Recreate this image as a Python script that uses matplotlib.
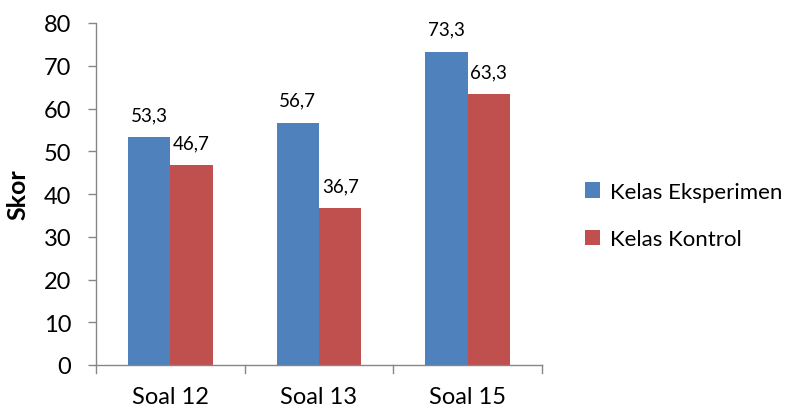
import matplotlib
matplotlib.use("Agg")
import matplotlib.pyplot as plt
import numpy as np

categories = ["Soal 12", "Soal 13", "Soal 15"]
eksperimen = [53.3, 56.7, 73.3]
kontrol = [46.7, 36.7, 63.3]
series_names = ["Kelas Eksperimen", "Kelas Kontrol"]
y_ticks = [0, 10, 20, 30, 40, 50, 60, 70, 80]

plt.rcParams['font.family'] = ['Lato', 'DejaVu Sans']

fig = plt.figure(figsize=(7.95, 4.10), dpi=100)
ax = fig.add_axes([96/795, 1 - 366/410, (542-96)/795, (366-24)/410])

blue = "#4F81BD"
red = "#C0504D"
x = np.arange(len(categories))
w = 1 / 3.5
b1 = ax.bar(x - w/2, eksperimen, w, color=blue, label=series_names[0])
b2 = ax.bar(x + w/2, kontrol, w, color=red, label=series_names[1])

def fmt(v):
    return f"{v:.1f}".replace(".", ",")

for bars, vals in ((b1, eksperimen), (b2, kontrol)):
    for r, v in zip(bars, vals):
        ax.annotate(fmt(v), (r.get_x() + r.get_width()/2, v), xytext=(0, 10),
                    textcoords="offset points", ha="center", va="bottom", fontsize=13.5)

ax.set_xlim(-0.5, 2.5)
ax.set_ylim(0, 80)
ax.set_yticks(y_ticks)
ax.set_yticklabels([str(t) for t in y_ticks], fontsize=17)
ax.tick_params(axis="y", direction="out", length=5.8, color="#868686", width=1, pad=12)

# category labels centred, separator ticks at the category boundaries
ax.set_xticks(x)
ax.set_xticklabels(categories, fontsize=17)
ax.tick_params(axis="x", length=0, pad=15)
for xb in [-0.5, 0.5, 1.5, 2.5]:
    ax.plot([xb, xb], [0, -0.022], transform=ax.get_xaxis_transform(),
            color="#868686", lw=1, clip_on=False)

for s in ["top", "right"]:
    ax.spines[s].set_visible(False)
for s in ["left", "bottom"]:
    ax.spines[s].set_color("#868686")
    ax.spines[s].set_linewidth(1)

ax.set_ylabel("Skor", fontsize=18, fontweight="bold", labelpad=10)

fig.legend(handles=[b1, b2], labels=series_names, loc="upper left",
           bbox_to_anchor=(569/795, 1 - 167/410), frameon=False, fontsize=16,
           handlelength=0.7, handleheight=0.7, handletextpad=0.45, labelspacing=1.25,
           borderpad=0.2)

fig.savefig("out.png", dpi=100)
